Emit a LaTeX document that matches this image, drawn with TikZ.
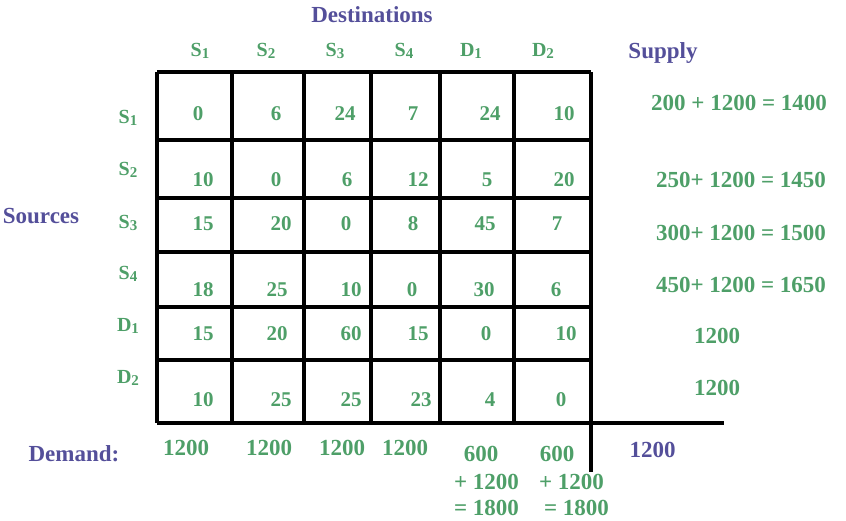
\documentclass[tikz,border=0pt]{standalone}
\usepackage{fontspec}
\setmainfont{Liberation Serif}
\definecolor{costgreen}{RGB}{78,159,104}
\definecolor{titlepurple}{RGB}{84,79,154}
\newcommand{\idx}[2]{#1\raisebox{-0.2ex}{\fontsize{7.5}{8}\selectfont #2}}

\begin{document}
\begin{tikzpicture}[%
    x=0.5pt,
    y=-0.5pt,
    title/.style={%
        text=titlepurple,
        inner sep=0pt,
        font=\fontsize{11.5}{13}\selectfont\bfseries
    },
    header/.style={%
        text=costgreen,
        inner sep=0pt,
        font=\fontsize{10}{11}\selectfont\bfseries
    },
    cost/.style={%
        text=costgreen,
        inner sep=0pt,
        font=\fontsize{10.5}{12}\selectfont\bfseries
    },
    total/.style={%
        text=costgreen,
        inner sep=0pt,
        font=\fontsize{11.5}{13}\selectfont\bfseries
    },
    gridline/.style={%
        line width=2pt
    }
]
\useasboundingbox (0,0) rectangle (846,520);

% Titles
    \node[title] (destinations) at (372, 15) {Destinations};
    \node[title] (supply) at (663, 53) {Supply};
    \node[title] (sources) at (41, 216) {Sources};
    \node[title] (demand) at (74, 454) {Demand:};

% Column headers
    \node[header] (colS1) at (200, 51) {\idx{S}{1}};
    \node[header] (colS2) at (266, 51) {\idx{S}{2}};
    \node[header] (colS3) at (335, 51) {\idx{S}{3}};
    \node[header] (colS4) at (404, 51) {\idx{S}{4}};
    \node[header] (colD1) at (471, 51) {\idx{D}{1}};
    \node[header] (colD2) at (543, 51) {\idx{D}{2}};

% Row headers
    \node[header] (rowS1) at (128, 118) {\idx{S}{1}};
    \node[header] (rowS2) at (128, 170) {\idx{S}{2}};
    \node[header] (rowS3) at (128, 223) {\idx{S}{3}};
    \node[header] (rowS4) at (128, 274) {\idx{S}{4}};
    \node[header] (rowD1) at (128, 326) {\idx{D}{1}};
    \node[header] (rowD2) at (128, 378) {\idx{D}{2}};

% Grid
    \foreach \y in {72,140,198,252,307,360,423}
        \draw[gridline] (157,\y) -- (591,\y);
    \foreach \x in {157,232,304,371,440,514,591}
        \draw[gridline] (\x,72) -- (\x,423);
    \coordinate (gridSE) at (591,423);
    \coordinate (supplyEnd) at (724,423);
    \coordinate (demandEnd) at (591,472);
    \draw[gridline] (gridSE) -- (supplyEnd);
    \draw[gridline] (gridSE) -- (demandEnd);

% Costs row S1
    \node[cost] (c11) at (198, 114) {0};
    \node[cost] (c12) at (276, 114) {6};
    \node[cost] (c13) at (345, 114) {24};
    \node[cost] (c14) at (413, 114) {7};
    \node[cost] (c15) at (490, 114) {24};
    \node[cost] (c16) at (564, 114) {10};
% Costs row S2
    \node[cost] (c21) at (203, 180) {10};
    \node[cost] (c22) at (276, 180) {0};
    \node[cost] (c23) at (347, 180) {6};
    \node[cost] (c24) at (418, 180) {12};
    \node[cost] (c25) at (487, 180) {5};
    \node[cost] (c26) at (564, 180) {20};
% Costs row S3
    \node[cost] (c31) at (203, 224) {15};
    \node[cost] (c32) at (281, 224) {20};
    \node[cost] (c33) at (346, 224) {0};
    \node[cost] (c34) at (413, 224) {8};
    \node[cost] (c35) at (485, 224) {45};
    \node[cost] (c36) at (557, 224) {7};
% Costs row S4
    \node[cost] (c41) at (203, 290) {18};
    \node[cost] (c42) at (277, 290) {25};
    \node[cost] (c43) at (351, 290) {10};
    \node[cost] (c44) at (412, 290) {0};
    \node[cost] (c45) at (484, 290) {30};
    \node[cost] (c46) at (556, 290) {6};
% Costs row D1
    \node[cost] (c51) at (203, 334) {15};
    \node[cost] (c52) at (277, 334) {20};
    \node[cost] (c53) at (351, 334) {60};
    \node[cost] (c54) at (418, 334) {15};
    \node[cost] (c55) at (486, 334) {0};
    \node[cost] (c56) at (566, 334) {10};
% Costs row D2
    \node[cost] (c61) at (203, 400) {10};
    \node[cost] (c62) at (281, 400) {25};
    \node[cost] (c63) at (351, 400) {25};
    \node[cost] (c64) at (421, 400) {23};
    \node[cost] (c65) at (490, 400) {4};
    \node[cost] (c66) at (561, 400) {0};

% Supply
    \node[total] (supply1) at (739, 102.5) {200 + 1200 = 1400};
    \node[total] (supply2) at (741, 180) {250+ 1200 = 1450};
    \node[total] (supply3) at (741, 232.5) {300+ 1200 = 1500};
    \node[total] (supply4) at (741, 284.5) {450+ 1200 = 1650};
    \node[total] (supply5) at (717, 335.5) {1200};
    \node[total] (supply6) at (717, 387.5) {1200};

% Demand
    \node[total] (demand1) at (186, 447.5) {1200};
    \node[total] (demand2) at (269, 447.5) {1200};
    \node[total] (demand3) at (342, 447.5) {1200};
    \node[total] (demand4) at (405, 447.5) {1200};
    \node[total] (demand5) at (481, 454) {600};
    \node[total] (demand5add) at (486.5, 482) {+ 1200};
    \node[total] (demand5sum) at (486.5, 508) {= 1800};
    \node[total] (demand6) at (557, 454) {600};
    \node[total] (demand6add) at (571.5, 482) {+ 1200};
    \node[total] (demand6sum) at (576.5, 508) {= 1800};
    \node[title] (grandTotal) at (652.5, 450) {1200};

\end{tikzpicture}
\end{document}
